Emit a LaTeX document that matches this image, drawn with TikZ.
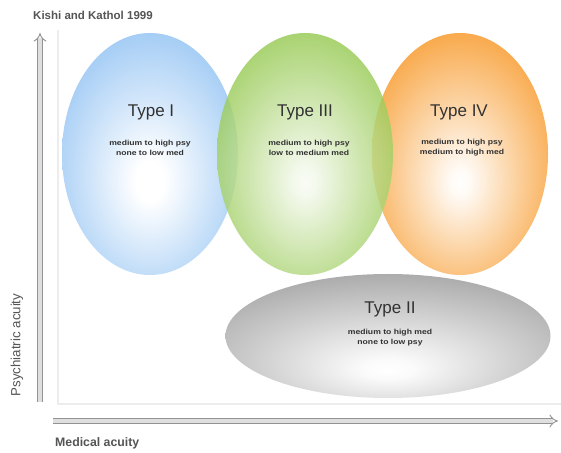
\documentclass[tikz,border=0pt]{standalone}
\usepackage{fontspec}
\setmainfont{Liberation Sans}
\newfontfamily\subfont{Liberation Sans}[FakeStretch=1.18]
\usetikzlibrary{shapes.geometric,arrows.meta}
\definecolor{tblue}{RGB}{138,190,242}
\definecolor{tgreen}{RGB}{128,190,45}
\definecolor{torange}{RGB}{247,150,35}
\definecolor{tgray}{RGB}{140,140,140}
\definecolor{txt}{RGB}{50,50,50}
\definecolor{ltxt}{RGB}{85,85,85}
\pgfdeclareradialshading{sblue}{\pgfpoint{0bp}{-6bp}}{color(0bp)=(white); color(4bp)=(white); color(36bp)=(tblue); color(70bp)=(tblue)}
\pgfdeclareradialshading{sgreen}{\pgfpoint{0bp}{-6bp}}{color(0bp)=(white!95!tgreen); color(3bp)=(white!90!tgreen); color(35bp)=(tgreen); color(70bp)=(tgreen)}
\pgfdeclareradialshading{sorange}{\pgfpoint{0bp}{-6bp}}{color(0bp)=(white); color(3bp)=(white!95!torange); color(35bp)=(torange); color(70bp)=(torange)}
\pgfdeclareradialshading{sgray}{\pgfpoint{0bp}{-14bp}}{color(0bp)=(white); color(4bp)=(white!96!tgray); color(45bp)=(tgray); color(80bp)=(tgray)}
\tikzset{
  blob/.style={ellipse, draw=none, minimum width=176pt, minimum height=242pt},
  ttl/.style={font=\fontsize{17}{20}\selectfont, text=txt},
  sub/.style={font=\subfont\bfseries\fontsize{7.3}{10}\selectfont, text=txt, align=center},
  axis/.style={draw=gray!85, double=gray!25, double distance=3.6pt, line width=0.9pt, -{Implies}},
  frame/.style={draw=gray!15, line width=1.6pt}
}
\begin{document}
\begin{tikzpicture}[x=1pt,y=1pt]
\useasboundingbox[fill=white] (0,0) rectangle (561,452);
% frame lines
\coordinate (ftop) at (58,422);
\coordinate (forig) at (58,48);
\coordinate (fright) at (561,48);
\draw[frame] (ftop) -- (forig) -- (fright);
% ellipses
\node[blob, shading=sblue] (t1) at (150,298) {};
\node[blob, shading=sorange] (t4) at (460,298) {};
\node[blob, shading=sgreen, fill opacity=0.82] (t3) at (305,298) {};
\node[ellipse, draw=none, minimum width=325pt, minimum height=124pt, shading=sgray] (t2) at (388,116) {};
% texts
\node[ttl] (l1) at (151,340) {Type I};
\node[sub] (s1) at (150,304) {medium to high psy\\none to low med};
\node[ttl] (l3) at (305,340) {Type III};
\node[sub] (s3) at (309,304) {medium to high psy\\low to medium med};
\node[ttl] (l4) at (459,340) {Type IV};
\node[sub] (s4) at (462,304) {medium to high psy\\medium to high med};
\node[ttl] (l2) at (390,143) {Type II};
\node[sub] (s2) at (390,114) {medium to high med\\none to low psy};
% axes
\coordinate (ya) at (40,50);
\coordinate (yb) at (40,419);
\draw[axis] (ya) -- (yb);
\coordinate (xa) at (53,31);
\coordinate (xb) at (558,31);
\draw[axis] (xa) -- (xb);
% labels
\node[font=\fontsize{11.5}{13}\selectfont\bfseries, text=ltxt, anchor=west, inner sep=0pt] (title) at (33,437) {Kishi and Kathol 1999};
\node[font=\fontsize{12.3}{14}\selectfont\bfseries, text=ltxt, anchor=west, inner sep=0pt] (mx) at (55,9) {Medical acuity};
\node[font=\fontsize{13.3}{15}\selectfont, text=ltxt, rotate=90, inner sep=0pt] (my) at (17,107) {Psychiatric acuity};
\end{tikzpicture}
\end{document}
